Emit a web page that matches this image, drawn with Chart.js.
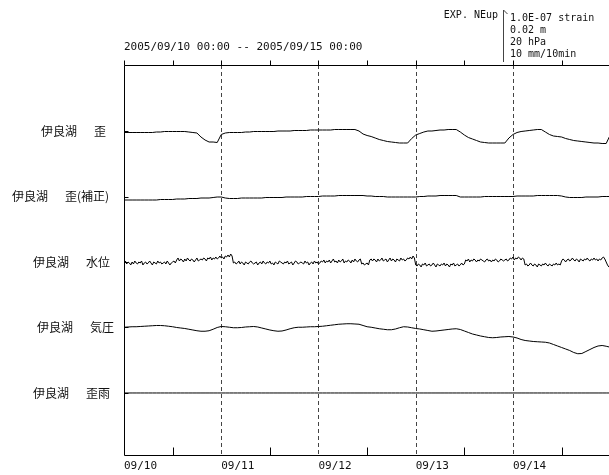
<!DOCTYPE html>
<html><head><meta charset="utf-8">
<script src="https://cdn.jsdelivr.net/npm/chart.js@4"></script>
<style>html,body{margin:0;padding:0;background:#fff}canvas{display:block}</style>
</head><body>
<canvas id="c" width="609" height="475"></canvas>
<script>
// ---------- text ----------
const stationName = '伊良湖';
const channelNames = ['歪', '歪(補正)', '水位', '気圧', '歪雨'];
const dayTickHours = [0, 24, 48, 72, 96];
const dayTickLabels = ['09/10', '09/11', '09/12', '09/13', '09/14'];
const halfDayTickHours = [12, 36, 60, 84, 108];
const periodLabel = '2005/09/10 00:00 -- 2005/09/15 00:00';
const scaleHeader = 'EXP. NEup';
const scaleLabels = ['1.0E-07 strain', '0.02 m', '20 hPa', '10 mm/10min'];

// ---------- data (deviation from trace baseline) ----------
// hourly, 2005/09/10 00:00 .. 09/15 00:00, strain in 1e-9
const strainNano = [
 -3,-3,-3,-3,-3,-3,-3,-3,-2,-2,
 -1,-1,-1,-1,-1,-1,-2,-3,-4,-12,
 -18,-22,-22,-23,-7,-4,-3,-3,-3,-3,
 -2,-2,-1,-1,-1,-1,-1,-1,0,0,
 0,0,1,1,1,1,2,2,2,2,
 2,2,3,3,3,3,3,3,0,-6,
 -9,-11,-14,-17,-19,-21,-22,-23,-24,-24,
 -24,-15,-8,-5,-2,0,0,1,2,2,
 3,3,3,-2,-8,-13,-16,-19,-22,-23,
 -24,-24,-24,-24,-24,-14,-7,-3,-1,0,
 1,2,3,3,-2,-7,-10,-11,-12,-15,
 -17,-19,-20,-21,-22,-23,-24,-24,-25,-25,
 -8];
const strainCorrectedNano = [
 -7,-7,-7,-7,-7,-7,-7,-7,-7,-6,
 -6,-6,-6,-5,-5,-5,-4,-4,-4,-3,
 -3,-3,-2,-1,-1,-3,-4,-4,-4,-3,
 -3,-3,-3,-3,-3,-2,-2,-2,-2,-2,
 -1,-1,-1,-1,-1,0,0,0,0,1,
 1,1,1,2,2,2,2,2,2,2,
 1,1,0,0,0,-1,-1,-1,-1,-1,
 -1,-1,-1,0,0,1,1,1,2,2,
 2,2,2,-1,-1,-1,-1,-1,-1,0,
 0,0,0,0,0,0,0,1,1,1,
 1,1,2,2,2,2,2,2,1,-1,
 -2,-2,-2,-2,-1,-1,-1,-1,0,0,
 0];
// every 20 minutes, water level in mm
const waterLevelMm = [
 -0.4,0.4,-0.8,0,-0.4,-1.2,0,-0.8,0.4,-0.4,
 -0.8,0,-0.4,0.4,-1.2,-0.4,0,-0.8,-0.4,0.4,
 -0.4,-1.2,0,-0.4,-0.8,0.4,-0.4,0,-0.8,-0.4,
 0,-0.8,0.4,-0.4,-1.2,-0.4,0,0.4,-0.4,
 0.8,1.6,0.4,1.2,0.8,0,1.2,0.4,1.6,0.8,
 0.4,1.2,0.8,0,0.8,1.6,0.4,0.8,1.2,
 0.8,1.6,1.2,0.4,1.6,1.2,2,0.8,1.6,1.2,
 2,1.2,1.6,2.4,1.6,2,1.2,2.4,2,2.8,2,3.2,2.4,
 -0.4,0,-0.8,-0.4,0.4,-0.8,0,-0.4,-1.2,0,
 -0.4,-0.8,0,0.4,-0.4,-0.8,-0.4,0,-1.2,-0.4,
 0,-0.8,0.4,-0.4,-0.8,0,-0.4,0.4,-0.8,-0.4,
 -1.2,0,-0.4,-0.8,0.4,0,-0.4,-0.8,0,-0.4,
 0.4,-0.8,-0.4,0,-1.2,-0.4,0.4,0,-0.8,-0.4,
 0,-0.4,-0.8,0.4,-0.4,0,-1.2,-0.4,0,-0.8,
 0.4,-0.4,0,-0.8,-0.4,0.4,
 0,0.8,-0.4,0.4,0,0.8,-0.4,0.4,1.2,0,
 0.4,-0.4,0.8,0,0.4,1.2,-0.4,0.4,0,0.8,
 0.4,-0.4,0.8,0,1.2,0.4,0,0.8,1.2,
 -0.8,-0.4,-1.2,-0.8,-0.4,-1.2,
 0.8,1.2,0.4,1.2,0.8,0,1.2,0.4,0.8,1.6,
 0.4,0.8,1.2,0,0.8,1.6,0.4,1.2,0.8,0,
 1.2,0.8,0.4,1.6,0.8,1.2,0.4,0.8,1.6,1.2,
 2,1.2,2.4,1.6,
 -1.2,-1.6,-0.8,-1.2,-2,-0.8,-1.2,-0.4,-1.6,-1.2,
 -0.8,-1.6,-1.2,-0.4,-1.2,-2,-0.8,-1.2,-1.6,-0.8,
 -1.2,-0.4,-1.6,-0.8,-1.2,-2,-0.8,-1.2,-0.4,-1.6,
 -1.2,-0.8,-1.6,-1.2,-0.4,-1.2,-0.8,
 0.8,0.4,1.2,0,0.8,0.4,1.2,0.8,0,0.8,
 0.4,1.2,0.8,0.4,0,0.8,1.2,0.4,0.8,0,
 0.8,0.4,1.2,0.8,0,0.4,1.2,0.8,0.4,0.8,
 1.2,0.4,0.8,1.6,
 1.2,2,0.8,1.6,1.2,2,1.6,0.8,1.6,1.2,
 -1.2,-0.8,-1.6,-1.2,-0.4,-1.2,-1.6,-0.8,-1.2,-2,
 -0.8,-1.2,-1.6,-0.8,-1.2,-0.4,-1.2,-1.6,-0.8,-1.2,
 -1.6,-0.8,-1.2,-0.4,-1.2,-0.8,-1.2,
 0.4,1.2,0.8,0,0.8,1.2,0.4,0.8,1.6,0.8,
 0.4,1.2,0.8,0,1.2,0.8,0.4,1.2,0.8,1.6,
 0.8,0.4,1.2,0.8,1.6,0.8,1.2,0.4,1.2,0.8,
 1.6,2,1.2,
 0,-1.2,-2,-2.4];
// hourly, air pressure change in hPa
const pressureDeltaHpa = [
 0.1,0.2,0.3,0.3,0.4,0.5,0.6,0.7,0.8,0.8,
 0.7,0.5,0.3,0.0,-0.2,-0.4,-0.7,-1.0,-1.3,-1.5,
 -1.5,-1.3,-0.7,0,0.4,0.3,0.1,-0.1,-0.1,0,
 0.2,0.3,0.4,0.2,-0.2,-0.6,-1.0,-1.3,-1.5,-1.4,
 -1.0,-0.5,-0.1,0.1,0.1,0.2,0.3,0.3,0.4,0.5,
 0.7,0.9,1.1,1.3,1.4,1.5,1.5,1.4,1.3,0.8,
 0.3,0.1,-0.2,-0.5,-0.7,-0.9,-0.9,-0.6,-0.1,0.3,
 0.2,-0.1,-0.4,-0.6,-0.9,-1.2,-1.5,-1.4,-1.2,-1.0,
 -0.8,-0.6,-0.5,-0.8,-1.4,-2.0,-2.6,-3.0,-3.4,-3.7,
 -4.0,-4.1,-4.0,-3.8,-3.7,-3.6,-3.8,-4.2,-4.8,-5.2,
 -5.4,-5.6,-5.7,-5.8,-5.9,-6.2,-6.8,-7.4,-8.0,-8.6,
 -9.2,-10.0,-10.5,-10.4,-9.6,-8.8,-8.0,-7.4,-7.2,-7.5,
 -7.9];
// hourly, rain in mm/10min
const rainMm = [
 0,0,0,0,0,0,0,0,0,0, 0,0,0,0,0,0,0,0,0,0,
 0,0,0,0,0,0,0,0,0,0, 0,0,0,0,0,0,0,0,0,0,
 0,0,0,0,0,0,0,0,0,0, 0,0,0,0,0,0,0,0,0,0,
 0,0,0,0,0,0,0,0,0,0, 0,0,0,0,0,0,0,0,0,0,
 0,0,0,0,0,0,0,0,0,0, 0,0,0,0,0,0,0,0,0,0,
 0,0,0,0,0,0,0,0,0,0, 0,0,0,0,0,0,0,0,0,0,
 0];

// ---------- layout / style ----------
const HOUR_STEP = 1, WATER_STEP = 1 / 3;
const channels = [
  {values: strainNano,          step: HOUR_STEP,  base: 5, perDiv: 131},
  {values: strainCorrectedNano, step: HOUR_STEP,  base: 4, perDiv: 131},
  {values: waterLevelMm,        step: WATER_STEP, base: 3, perDiv: 26.2},
  {values: pressureDeltaHpa,    step: HOUR_STEP,  base: 2, perDiv: 26.2},
  {values: rainMm,              step: HOUR_STEP,  base: 1, perDiv: 13.1}
];
const labelLeft = [41, 12, 33, 37, 33];
const MONO = '"DejaVu Sans Mono", "Liberation Mono", monospace';
const CJK = '"Noto Sans CJK JP", sans-serif';

const crisp = v => Math.round(v) + 0.5;

const framePlugin = {
  id: 'frame',
  beforeDatasetsDraw(chart) {
    const {ctx, chartArea: a, scales: {x}} = chart;
    ctx.save();
    ctx.strokeStyle = '#444';
    ctx.lineWidth = 1;
    ctx.setLineDash([4, 3]);
    dayTickHours.slice(1).forEach(h => {
      const px = crisp(x.getPixelForValue(h));
      ctx.beginPath(); ctx.moveTo(px, a.top); ctx.lineTo(px, a.bottom); ctx.stroke();
    });
    ctx.restore();
  },
  afterDraw(chart) {
    const {ctx, chartArea: a, scales: {x, y}} = chart;
    ctx.save();
    ctx.strokeStyle = '#000';
    ctx.lineWidth = 1;
    const L = crisp(a.left), B = crisp(a.bottom), T = crisp(a.top);
    ctx.beginPath();
    ctx.moveTo(L, T); ctx.lineTo(L, B); ctx.lineTo(a.right + 2, B);
    ctx.moveTo(L, T); ctx.lineTo(a.right + 2, T);
    ctx.stroke();
    ctx.beginPath();
    halfDayTickHours.forEach(h => {
      const px = crisp(x.getPixelForValue(h));
      ctx.moveTo(px, B); ctx.lineTo(px, B - 8);
    });
    dayTickHours.concat(halfDayTickHours).forEach(h => {
      const px = crisp(x.getPixelForValue(h));
      ctx.moveTo(px, T); ctx.lineTo(px, T - 5);
    });
    channels.forEach(c => {
      const py = crisp(y.getPixelForValue(c.base));
      ctx.moveTo(L, py); ctx.lineTo(L + 4, py);
    });
    ctx.stroke();

    ctx.fillStyle = '#111';
    ctx.font = '12px ' + CJK;
    ctx.textBaseline = 'middle';
    ctx.textAlign = 'left';
    channels.forEach((c, i) => {
      const py = y.getPixelForValue(c.base);
      ctx.fillText(stationName, labelLeft[i], py);
      ctx.fillText(channelNames[i], labelLeft[i] + 53, py);
    });
    ctx.font = '11px ' + MONO;
    dayTickHours.forEach((h, i) => {
      ctx.fillText(dayTickLabels[i], x.getPixelForValue(h), 466);
    });
    ctx.fillText(periodLabel, a.left, 47);
    ctx.font = '10px ' + MONO;
    ctx.textAlign = 'right';
    ctx.fillText(scaleHeader, 498, 15);
    ctx.textAlign = 'left';
    scaleLabels.forEach((s, i) => ctx.fillText(s, 510, 18 + i * 12));
    ctx.strokeStyle = '#444';
    ctx.beginPath();
    ctx.moveTo(503.5, 62); ctx.lineTo(503.5, 10); ctx.lineTo(507.5, 14);
    ctx.stroke();
    ctx.restore();
  }
};

new Chart(document.getElementById('c'), {
  type: 'line',
  data: {
    datasets: channels.map(c => ({
      data: c.values.map((v, i) => ({x: i * c.step, y: c.base + v / c.perDiv})),
      borderColor: '#000',
      borderWidth: 1,
      pointRadius: 0,
      tension: 0,
      fill: false
    }))
  },
  options: {
    responsive: false,
    animation: false,
    events: [],
    layout: {padding: {top: 65, left: 0, right: 0, bottom: 0}},
    plugins: {legend: {display: false}, tooltip: {enabled: false}},
    scales: {
      x: {
        type: 'linear', min: 0, max: 119.7,
        ticks: {display: false}, grid: {display: false}, border: {display: false},
        afterFit(s) { s.height = 20; }
      },
      y: {
        type: 'linear', min: 0.053, max: 6.008,
        ticks: {display: false}, grid: {display: false}, border: {display: false},
        afterFit(s) { s.width = 124; }
      }
    }
  },
  plugins: [framePlugin]
});
</script>
</body></html>
